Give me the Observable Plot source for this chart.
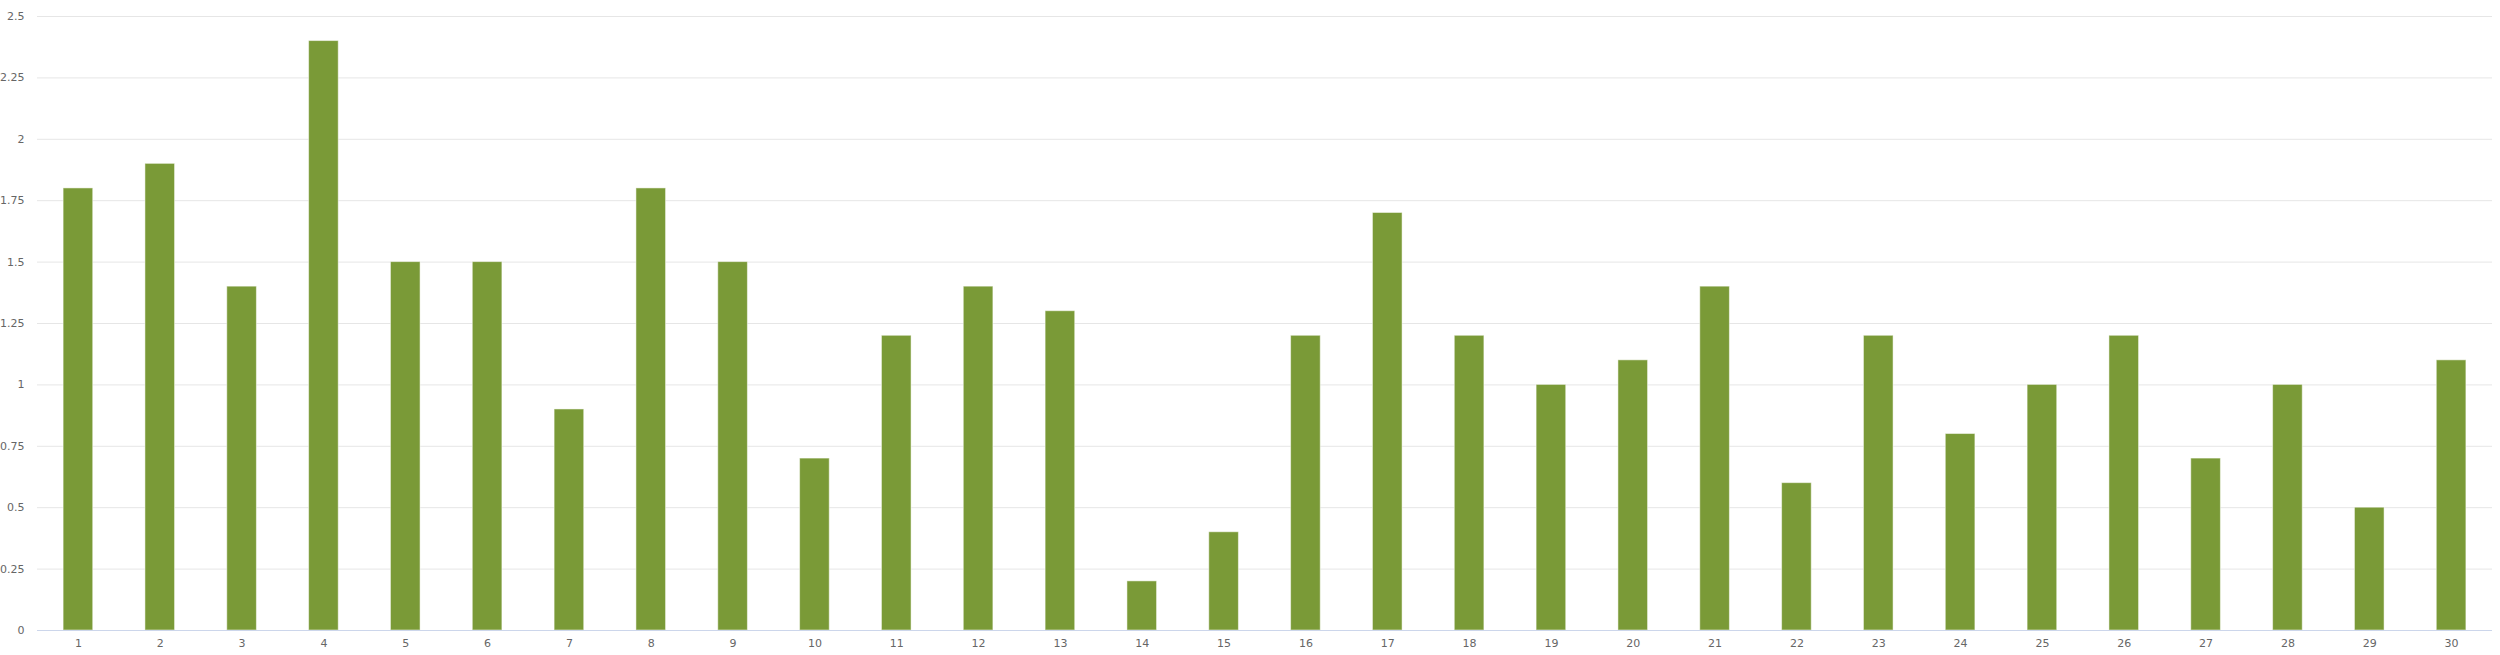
<!DOCTYPE html>
<html>
<head>
<meta charset="utf-8">
<script src="https://cdn.jsdelivr.net/npm/d3@7"></script>
<script src="https://cdn.jsdelivr.net/npm/@observablehq/plot@0.6"></script>
<style>
  html, body { margin: 0; padding: 0; background: #ffffff; }
  #chart svg { display: block; }
</style>
</head>
<body>
<div id="chart"></div>
<script>
const categories = Array.from({length: 30}, (_, i) => String(i + 1));
const values = [1.8, 1.9, 1.4, 2.4, 1.5, 1.5, 0.9, 1.8, 1.5, 0.7,
                1.2, 1.4, 1.3, 0.2, 0.4, 1.2, 1.7, 1.2, 1.0, 1.1,
                1.4, 0.6, 1.2, 0.8, 1.0, 1.2, 0.7, 1.0, 0.5, 1.1];
const yTicks = [0, 0.25, 0.5, 0.75, 1, 1.25, 1.5, 1.75, 2, 2.25, 2.5];

const data = categories.map((c, i) => ({category: c, value: values[i]}));

const chart = Plot.plot({
  width: 2500,
  height: 655,
  marginLeft: 37,
  marginRight: 8,
  marginTop: 16,
  marginBottom: 25,
  style: {fontFamily: "'Lucida Grande', 'DejaVu Sans', sans-serif", fontSize: "11px", color: "#666666", background: "#ffffff"},
  x: {domain: categories, paddingInner: 0.638, paddingOuter: 0.319, round: false, label: null, axis: null},
  y: {domain: [0, 2.5], label: null, axis: null},
  marks: [
    Plot.ruleY(yTicks.filter(d => d > 0), {stroke: "#e6e6e6", strokeWidth: 1}),
    Plot.barY(data, {x: "category", y: "value", fill: "#7a9a37", stroke: "#ffffff", strokeWidth: 1, strokeOpacity: 0.5}),
    Plot.ruleY([0], {stroke: "#ccd6eb", strokeWidth: 1}),
    Plot.axisY(yTicks, {tickFormat: d => String(d), tickSize: 0, tickPadding: 13, fill: "#666666", label: null}),
    Plot.text(categories, {x: d => d, frameAnchor: "bottom", dy: 16, fill: "#666666", text: d => d})
  ]
});
document.getElementById("chart").appendChild(chart);
</script>
</body>
</html>
